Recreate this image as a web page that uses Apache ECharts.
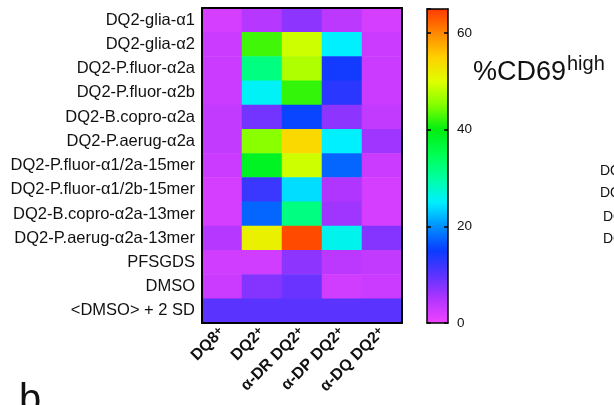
<!DOCTYPE html>
<html>
<head>
<meta charset="utf-8">
<script src="https://cdn.jsdelivr.net/npm/echarts@6/dist/echarts.min.js"></script>
<style>
  html, body { margin: 0; padding: 0; background: #fff; }
  #chart { width: 614px; height: 405px; }
</style>
</head>
<body>
<div id="chart"></div>
<script>
// %CD69-high heatmap: peptides (rows) x cell lines / blocking antibodies (columns)

const peptides = [
  'DQ2-glia-α1', 'DQ2-glia-α2', 'DQ2-P.fluor-α2a', 'DQ2-P.fluor-α2b',
  'DQ2-B.copro-α2a', 'DQ2-P.aerug-α2a', 'DQ2-P.fluor-α1/2a-15mer',
  'DQ2-P.fluor-α1/2b-15mer', 'DQ2-B.copro-α2a-13mer', 'DQ2-P.aerug-α2a-13mer',
  'PFSGDS', 'DMSO', '<DMSO> + 2 SD'
];
const conditions = ['DQ8+', 'DQ2+', 'α-DR DQ2+', 'α-DP DQ2+', 'α-DQ DQ2+'];

// one row per peptide, values per condition (%CD69high)
const cd69 = [
  [2,   4.5,  7,    4,    2  ],
  [3,   42.5, 49,   25,   3  ],
  [3,   32,   47.5, 14.5, 3  ],
  [3,   25.5, 42,   13,   3  ],
  [3.5, 8.5,  15.5, 7,    3.5],
  [3.5, 45.5, 54,   25,   6  ],
  [3,   38.5, 49,   17.5, 3  ],
  [2,   12,   24,   5,    2  ],
  [2,   17.5, 32,   6,    2  ],
  [4.5, 51.5, 64,   26,   7.5],
  [2.5, 2.5,  7,    4,    3.5],
  [3,   7.5,  9,    2.5,  3  ],
  [10,  10,   10,   10,   10 ]
];

const scaleTicks = [0, 20, 40, 60];
const scaleMax = 65;
// rainbow ramp, 0 at the bottom (pink) to 65 at the top (red)
const ramp = ['#f044ff', '#b035ff', '#5a33ff', '#0a3cff', '#0090ff', '#00f0ff',
              '#00ffa0', '#00ff50', '#00ee10', '#80ff00', '#e0ff00', '#ffd000',
              '#ff8800', '#ff3a00'];

// partly visible labels of the neighbouring panel
const sideLabels = ['DQ2-glia-α1', 'DQ2-glia-α2', 'DQ2-P.fluor', 'DQ2-B.copro'];

const FONT = '"Liberation Sans", Arial, Helvetica, sans-serif';

const cells = [];
cd69.forEach((row, y) => row.forEach((v, x) => cells.push([x, y, v])));

const chart = echarts.init(document.getElementById('chart'), null, { renderer: 'canvas' });

const frame = { show: true, onZero: false, lineStyle: { color: '#000', width: 2 } };
const barLine = { show: true, onZero: false, lineStyle: { color: '#000', width: 1.5 } };

chart.setOption({
  animation: false,
  textStyle: { fontFamily: FONT },
  grid: [
    { left: 202, top: 8, width: 200, height: 315 },
    { left: 427, top: 9, width: 21, height: 314 }
  ],
  xAxis: [
    {
      gridIndex: 0, type: 'category', data: conditions, position: 'bottom', z: 10,
      axisLine: frame, axisTick: { show: false },
      axisLabel: {
        rotate: 45, margin: 7, interval: 0,
        formatter: v => v.endsWith('+') ? `{b|${v.slice(0, -1)}}{s|+}` : `{b|${v}}`,
        rich: {
          b: { fontSize: 16, fontWeight: 'bold', color: '#111', fontFamily: FONT },
          s: { fontSize: 12, fontWeight: 'bold', color: '#111', fontFamily: FONT, verticalAlign: 'top' }
        }
      }
    },
    {
      gridIndex: 0, type: 'category', data: conditions, position: 'top', z: 10,
      axisLine: frame, axisTick: { show: false }, axisLabel: { show: false }
    },
    {
      gridIndex: 1, type: 'value', min: 0, max: 1, position: 'bottom', z: 10,
      axisLine: barLine, axisTick: { show: false }, axisLabel: { show: false }, splitLine: { show: false }
    },
    {
      gridIndex: 1, type: 'value', min: 0, max: 1, position: 'top', z: 10,
      axisLine: barLine, axisTick: { show: false }, axisLabel: { show: false }, splitLine: { show: false }
    }
  ],
  yAxis: [
    {
      gridIndex: 0, type: 'category', data: peptides, inverse: true, position: 'left', z: 10,
      axisLine: frame, axisTick: { show: false },
      axisLabel: { fontSize: 16.5, color: '#111', margin: 7, interval: 0 }
    },
    {
      gridIndex: 0, type: 'category', data: peptides, inverse: true, position: 'right', z: 10,
      axisLine: frame, axisTick: { show: false }, axisLabel: { show: false }
    },
    {
      gridIndex: 1, type: 'value', min: 0, max: scaleMax, interval: 20, position: 'left', z: 10,
      axisLine: barLine,
      axisTick: { show: true, inside: true, length: 4, lineStyle: { color: '#000', width: 1.5 } },
      axisLabel: { show: false }, splitLine: { show: false }
    },
    {
      gridIndex: 1, type: 'value', min: 0, max: scaleMax, interval: 20, position: 'right', z: 10,
      axisLine: barLine,
      axisTick: { show: true, inside: true, length: 4, lineStyle: { color: '#000', width: 1.5 } },
      axisLabel: {
        fontSize: 13.5, color: '#111', margin: 9, showMaxLabel: false,
        formatter: v => scaleTicks.includes(v) ? String(v) : ''
      },
      splitLine: { show: false }
    }
  ],
  visualMap: {
    type: 'continuous', min: 0, max: scaleMax, calculable: false,
    orient: 'vertical', left: 427, top: 9, itemWidth: 21, itemHeight: 314,
    padding: 0, text: null, seriesIndex: 0, z: 2,
    inRange: { color: ramp }
  },
  series: [{
    type: 'heatmap', xAxisIndex: 0, yAxisIndex: 0, data: cells,
    itemStyle: { borderWidth: 0 },
    emphasis: { disabled: true }
  }],
  graphic: [
    { type: 'text', x: 473, y: 72.5,
      style: { text: '%CD69', font: `27px ${FONT}`, fill: '#111', verticalAlign: 'middle' } },
    { type: 'text', x: 567, y: 64,
      style: { text: 'high', font: `20px ${FONT}`, fill: '#111', verticalAlign: 'middle' } },
    ...sideLabels.map((t, i) => ({
      type: 'text', x: i < 2 ? 600 : 603, y: [171, 193, 217, 239][i],
      style: { text: t, font: `14px ${FONT}`, fill: '#111', verticalAlign: 'middle' }
    })),
    { type: 'text', x: 19, y: 401,
      style: { text: 'b', font: `40px ${FONT}`, fill: '#111', verticalAlign: 'middle' } }
  ]
});
</script>
</body>
</html>
